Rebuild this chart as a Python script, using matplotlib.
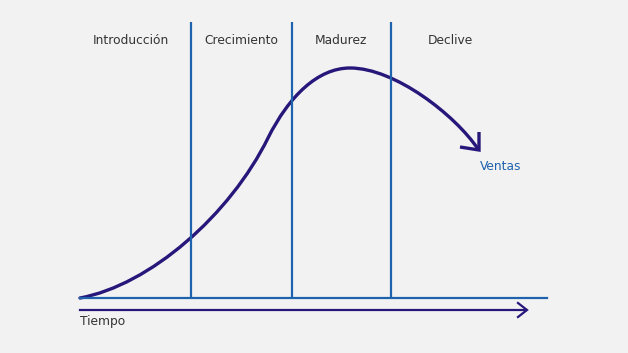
import matplotlib.pyplot as plt
from matplotlib.path import Path
from matplotlib.patches import PathPatch

# stage labels and boundaries (time axis, pixel-like units)
stages = ["Introducción", "Crecimiento", "Madurez", "Declive"]
stage_centers = [131, 241, 341, 450]
boundaries = [191, 292, 391]

# sales curve: anchor points and bezier handles
curve_pts = [(80, 298), (150, 285), (230, 215), (268, 138),
             (289, 96), (318, 68), (350, 68),
             (395, 68), (455, 115), (478, 149)]
curve_codes = [Path.MOVETO] + [Path.CURVE4] * 9

# arrow head of the curve (two barbs meeting at the tip)
head_x = [460, 479, 479]
head_y = [147, 150, 132]

BG = "#f2f2f2"
NAVY = "#27177a"
BLUE = "#1f62ad"
GREY = "#333333"

fig = plt.figure(figsize=(6.28, 3.53), dpi=100, facecolor=BG)
ax = fig.add_axes([0, 0, 1, 1])
ax.set_facecolor(BG)
ax.set_xlim(0, 628)
ax.set_ylim(353, 0)
ax.axis("off")

# stage separators and baseline
for b in boundaries:
    ax.plot([b, b], [22, 298], color=BLUE, lw=1.6, solid_capstyle="butt")
ax.plot([80, 547], [298, 298], color=BLUE, lw=1.6)

# sales curve
ax.add_patch(PathPatch(Path(curve_pts, curve_codes), fill=False,
                       edgecolor=NAVY, lw=2.4, capstyle="round"))
ax.plot(head_x, head_y, color=NAVY, lw=2.4, solid_capstyle="butt",
        solid_joinstyle="miter")

# time axis arrow
ax.plot([80, 526], [310, 310], color=NAVY, lw=1.6)
ax.plot([518, 527, 518], [303, 310, 317], color=NAVY, lw=1.6,
        solid_joinstyle="miter")

for name, cx in zip(stages, stage_centers):
    ax.text(cx, 41, name, ha="center", va="center", fontsize=8.8, color=GREY)

ax.text(480, 167, "Ventas", ha="left", va="center", fontsize=8.8, color=BLUE)
ax.text(80, 322, "Tiempo", ha="left", va="center", fontsize=8.8, color=GREY)

fig.savefig("out.png", dpi=100, facecolor=BG)
